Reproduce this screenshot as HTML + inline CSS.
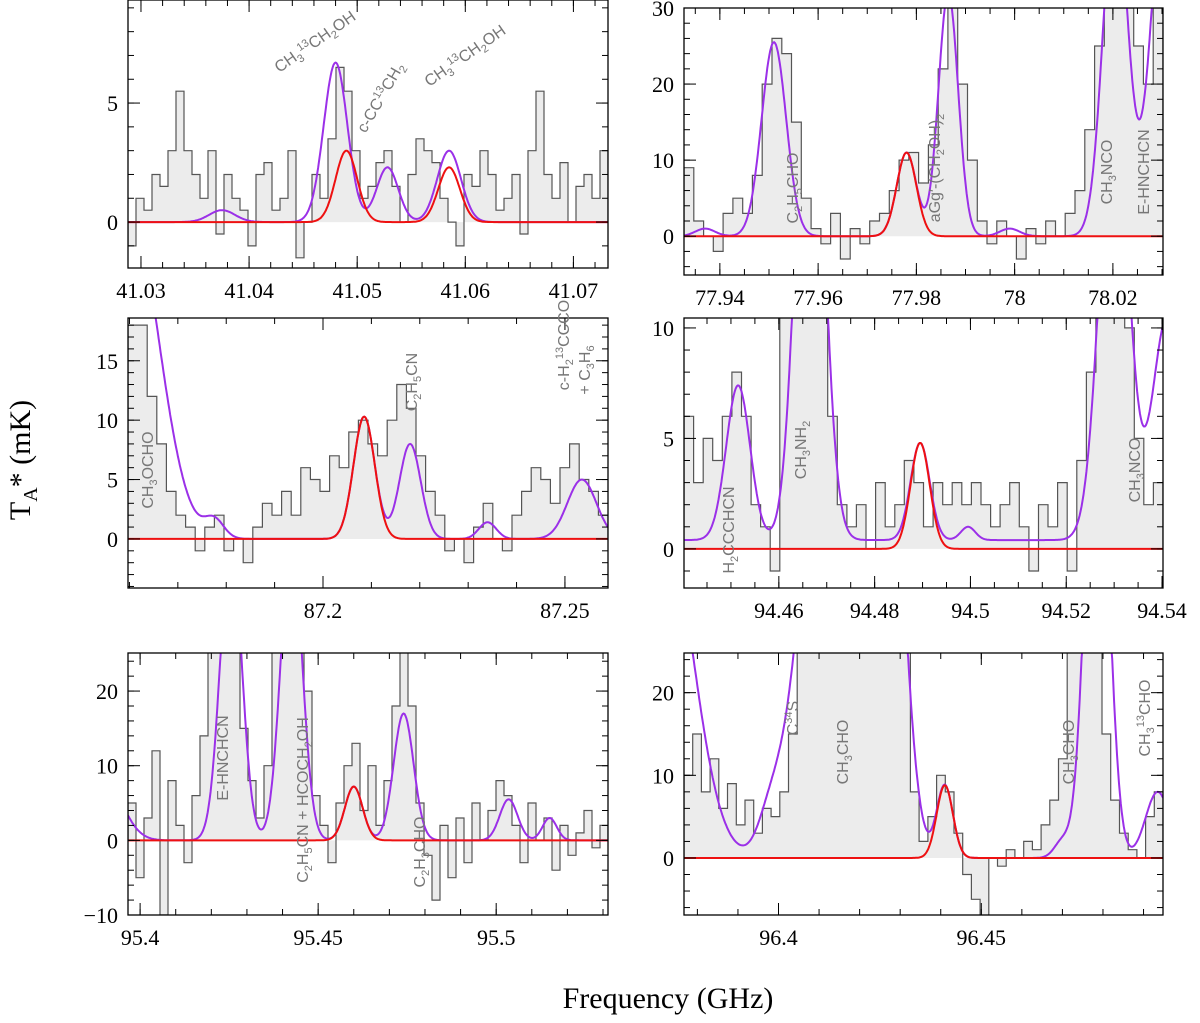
<!DOCTYPE html>
<html><head><meta charset="utf-8"><style>
body{margin:0;background:#fff;}
svg{display:block;font-family:"Liberation Serif",serif;}
.tk{font-size:22px;fill:#000;}
.ann{font-family:"Liberation Sans",sans-serif;font-size:16px;fill:#777;}
</style></head><body>
<svg id="fig" width="1200" height="1023" viewBox="0 0 1200 1023">
<text x="30" y="460" transform="rotate(-90 30 460)" text-anchor="middle" font-size="30">T<tspan font-size="20" dy="7">A</tspan><tspan dy="-7">* (mK)</tspan></text>
<text x="668" y="1008" text-anchor="middle" font-size="30">Frequency (GHz)</text>
</svg>
<script>
// ---- data ----
const p1Start=41.0288, p1End=41.0732;
const p1Spec=[-1,1,0.5,2,1.5,3,5.5,3,2,1,3,-0.5,2,1,0.5,-1,2,2.5,0.5,1,3,-1.5,0,2,1,3.5,6.5,5.5,3,1,1.5,2.5,3,1.5,0,2,3.5,3,2.5,1,0,-1,2,1.5,3,2,0.5,1,2,-0.5,3,5.5,2,1,2.5,0,1.5,2,1,3];
const p1PurpleC=[41.0375,41.048,41.0528,41.0585], p1PurpleA=[0.5,6.7,2.3,3.0], p1PurpleS=[0.0012,0.0011,0.001,0.0011];
const p1RedC=[41.049,41.0585], p1RedA=[3.0,2.3], p1RedS=[0.001,0.001];
const p1XTicks=[41.03,41.04,41.05,41.06,41.07], p1YTicks=[0,5];

const p2Start=77.9327, p2End=78.0302;
const p2Spec=[9,2,0,-2,3,5,3,8,20,26,24,15,5,1,-1,3,-3,1,-1,2,3,6,10,11,7,12,22,30,20,10,2,-1,2,0,-3,1,-1,2,0,3,6,14,25,30,30,30,25,20,30];
const p2PurpleC=[77.937,77.951,77.978,77.9865,77.999,78.0205,78.031], p2PurpleA=[1,25.5,11,32,1,45,50], p2PurpleS=[0.002,0.0025,0.002,0.002,0.002,0.0025,0.003];
const p2RedC=[77.978], p2RedA=[11], p2RedS=[0.002];
const p2XTicks=[77.94,77.96,77.98,78,78.02], p2YTicks=[0,10,20,30];

const p3Start=87.1597, p3End=87.2589;
const p3Spec=[18,18,12,8,4,2,1,-1,1,2,-1,0,-2,1,3,2,4,2,6,5,4,7,6,9,10,8,7,10,13,11,7,4,2,-1,0,-2,1,3,0,-1,2,4,6,5,3,6,8,5,4,2];
const p3PurpleC=[87.160,87.1775,87.2085,87.218,87.234,87.2535], p3PurpleA=[28,1.5,10.3,8,1.4,5], p3PurpleS=[0.006,0.002,0.0022,0.0022,0.0018,0.003];
const p3RedC=[87.2085], p3RedA=[10.3], p3RedS=[0.0022];
const p3XTicks=[87.2,87.25], p3YTicks=[0,5,10,15];

const p4Start=94.4402, p4End=94.5402;
const p4Spec=[6,3,5,4,6,8,6,2,1,-1,12,12,12,12,12,6,2,1,2,0,3,1,2,4,3,1,3,2,3,2,3,2,1,2,3,1,-1,2,1,3,-1,4,8,12,12,12,10,5,2,3];
const p4Base=0.4;
const p4PurpleC=[94.4515,94.4665,94.4895,94.4995,94.530,94.541], p4PurpleA=[7.0,25,4.4,0.6,20,10], p4PurpleS=[0.0025,0.0028,0.002,0.0015,0.003,0.003];
const p4RedC=[94.4895], p4RedA=[4.8], p4RedS=[0.002];
const p4XTicks=[94.46,94.48,94.5,94.52,94.54], p4YTicks=[0,5,10];

const p5Start=95.3966, p5End=95.5314;
const p5Spec=[5,-5,3,12,-10,8,2,-3,6,14,26,26,26,26,15,8,3,10,26,26,26,26,20,6,2,-3,5,10,13,4,10,2,8,18,26,18,5,-2,-8,2,-5,3,-3,5,0,4,8,6,2,-3,5,0,3,-4,2,-2,1,4,-1,2];
const p5PurpleC=[95.39,95.4255,95.4425,95.46,95.474,95.5035,95.515], p5PurpleA=[8,40,40,7.2,17,5.5,3], p5PurpleS=[0.005,0.003,0.003,0.0025,0.0028,0.0025,0.002];
const p5RedC=[95.46], p5RedA=[7.2], p5RedS=[0.0025];
const p5XTicks=[95.4,95.45,95.5], p5YTicks=[-10,0,10,20];

const p6Start=96.3767, p6End=96.4948;
const p6Spec=[10,15,8,12,6,9,4,7,3,6,5,8,15,26,26,26,26,26,26,26,26,26,26,26,26,26,8,2,5,10,8,3,-2,-5,-7,0,-1,1,0,2,1,4,7,12,26,26,26,26,15,7,3,1,0,5,8];
const p6PurpleC=[96.372,96.398,96.4125,96.4265,96.441,96.47,96.4785,96.4935], p6PurpleA=[40,4,60,60,8.8,2,60,8], p6PurpleS=[0.007,0.003,0.0065,0.004,0.002,0.002,0.0028,0.003];
const p6RedC=[96.441], p6RedA=[8.8], p6RedS=[0.002];
const p6XTicks=[96.4,96.45], p6YTicks=[0,10,20];

// ---- drawing ----
const NS='http://www.w3.org/2000/svg';
const svg=document.getElementById('fig');
function mk(tag,attrs,parent){const e=document.createElementNS(NS,tag);for(const k in attrs)e.setAttribute(k,attrs[k]);(parent||svg).appendChild(e);return e;}
function model(f,C,A,S,base){let v=base||0;for(let i=0;i<C.length;i++){const d=(f-C[i])/S[i];v+=A[i]*Math.exp(-0.5*d*d);}return v;}
function fmt(v){return (v<0?'\u2212':'')+String(Math.abs(v));}

const panels=[
 {x0:128,x1:608,y0:0,y1:268,ymin:-1.93,ymax:9.33,fs:p1Start,fe:p1End,spec:p1Spec,pc:p1PurpleC,pa:p1PurpleA,ps:p1PurpleS,rc:p1RedC,ra:p1RedA,rs:p1RedS,xt:p1XTicks,yt:p1YTicks,xm:0.002,ym:1},
 {x0:684,x1:1163,y0:8,y1:275,ymin:-5.1,ymax:30,fs:p2Start,fe:p2End,spec:p2Spec,pc:p2PurpleC,pa:p2PurpleA,ps:p2PurpleS,rc:p2RedC,ra:p2RedA,rs:p2RedS,xt:p2XTicks,yt:p2YTicks,xm:0.005,ym:2},
 {x0:128,x1:608,y0:318,y1:588,ymin:-4.13,ymax:18.6,fs:p3Start,fe:p3End,spec:p3Spec,pc:p3PurpleC,pa:p3PurpleA,ps:p3PurpleS,rc:p3RedC,ra:p3RedA,rs:p3RedS,xt:p3XTicks,yt:p3YTicks,xm:0.01,ym:1},
 {x0:684,x1:1163,y0:318,y1:588,ymin:-1.77,ymax:10.45,fs:p4Start,fe:p4End,spec:p4Spec,pc:p4PurpleC,pa:p4PurpleA,ps:p4PurpleS,rc:p4RedC,ra:p4RedA,rs:p4RedS,xt:p4XTicks,yt:p4YTicks,base:p4Base,xm:0.005,ym:1},
 {x0:128,x1:608,y0:653,y1:915,ymin:-10,ymax:25.1,fs:p5Start,fe:p5End,spec:p5Spec,pc:p5PurpleC,pa:p5PurpleA,ps:p5PurpleS,rc:p5RedC,ra:p5RedA,rs:p5RedS,xt:p5XTicks,yt:p5YTicks,xm:0.01,ym:2},
 {x0:684,x1:1163,y0:653,y1:915,ymin:-6.9,ymax:24.8,fs:p6Start,fe:p6End,spec:p6Spec,pc:p6PurpleC,pa:p6PurpleA,ps:p6PurpleS,rc:p6RedC,ra:p6RedA,rs:p6RedS,xt:p6XTicks,yt:p6YTicks,xm:0.01,ym:2}
];

panels.forEach((p,pi)=>{
 const X=f=>p.x0+(f-p.fs)/(p.fe-p.fs)*(p.x1-p.x0);
 const Y=v=>p.y1-(v-p.ymin)/(p.ymax-p.ymin)*(p.y1-p.y0);
 const g=mk('g',{});
 
 
 const cp=mk('clipPath',{id:'clip'+pi},g);
 mk('rect',{x:p.x0,y:p.y0,width:p.x1-p.x0,height:p.y1-p.y0},cp);
 const inner=mk('g',{'clip-path':'url(#clip'+pi+')'},g);
 const n=p.spec.length, step=(p.fe-p.fs)/n;
 let d='M'+X(p.fs)+','+Y(0);
 for(let i=0;i<n;i++){const a=X(p.fs+i*step),b=X(p.fs+(i+1)*step),y=Y(p.spec[i]);d+=' L'+a.toFixed(1)+','+y.toFixed(1)+' L'+b.toFixed(1)+','+y.toFixed(1);}
 d+=' L'+X(p.fe)+','+Y(0)+' Z';
 const fill=mk('path',{d:d,fill:'#ececec',stroke:'none'},inner);
 
 
 const st=mk('path',{d:d.replace(' Z',''),fill:'none',stroke:'#555','stroke-width':1.2},inner);
 
 
 function curve(C,A,S,base,color,name){
   let dd='';const N=500;
   for(let k=0;k<=N;k++){const f=p.fs+(p.fe-p.fs)*k/N;let y=Y(model(f,C,A,S,base));y=Math.max(p.y0-5,Math.min(p.y1+5,y));dd+=(k?' L':'M')+X(f).toFixed(1)+','+y.toFixed(1);}
   const c=mk('path',{d:dd,fill:'none',stroke:color,'stroke-width':2},inner);
   
   
 }
 curve(p.pc,p.pa,p.ps,p.base||0,'#9b30e8','full-model-curve');
 curve(p.rc,p.ra,p.rs,0,'#ee1111','molecule-model-curve');
 const fr=mk('rect',{x:p.x0,y:p.y0,width:p.x1-p.x0,height:p.y1-p.y0,fill:'none',stroke:'#000','stroke-width':1.3},g);
 
 
 const mx0=Math.ceil(p.fs/p.xm);
 for(let k=mx0;k*p.xm<=p.fe;k++){const x=X(k*p.xm);mk('line',{x1:x,x2:x,y1:p.y1,y2:p.y1-6,stroke:'#000'},g);mk('line',{x1:x,x2:x,y1:p.y0,y2:p.y0+6,stroke:'#000'},g);}
 const my0=Math.ceil(p.ymin/p.ym);
 for(let k=my0;k*p.ym<=p.ymax;k++){const y=Y(k*p.ym);mk('line',{x1:p.x0,x2:p.x0+6,y1:y,y2:y,stroke:'#000'},g);mk('line',{x1:p.x1,x2:p.x1-6,y1:y,y2:y,stroke:'#000'},g);}
 p.xt.forEach(t=>{const x=X(t);
   mk('line',{x1:x,x2:x,y1:p.y1,y2:p.y1-12,stroke:'#000'},g);mk('line',{x1:x,x2:x,y1:p.y0,y2:p.y0+12,stroke:'#000'},g);
   const tx=mk('text',{x:x,y:p.y1+30,'text-anchor':'middle',class:'tk'},g);tx.textContent=String(t);
   
   
 });
 p.yt.forEach(t=>{const y=Y(t);
   mk('line',{x1:p.x0,x2:p.x0+12,y1:y,y2:y,stroke:'#000'},g);mk('line',{x1:p.x1,x2:p.x1-12,y1:y,y2:y,stroke:'#000'},g);
   const tx=mk('text',{x:p.x0-10,y:y+8,'text-anchor':'end',class:'tk'},g);tx.textContent=fmt(t);
   
   
 });
});

// annotations: [x,y,rotation,label] ; _x = subscript, ^x = superscript
const anns=[
 [318,46,-35,'CH_3^13CH_2OH'],
 [385,100,-60,'c-CC^13CH_2'],
 [468,60,-35,'CH_3^13CH_2OH'],
 [798,188,-90,'C_2H_5CHO'],
 [940,168,-90,'aGg\u2032-(CH_2OH)_2'],
 [1112,172,-90,'CH_3NCO'],
 [1149,172,-90,'E-HNCHCN'],
 [153,470,-90,'CH_3OCHO'],
 [417,382,-90,'C_2H_5CN'],
 [569,345,-90,'c-H_2^13CCCO'],
 [590,370,-90,'+ C_3H_6'],
 [734,530,-90,'H_2CCCHCN'],
 [806,450,-90,'CH_3NH_2'],
 [1140,470,-90,'CH_3NCO'],
 [228,758,-90,'E-HNCHCN'],
 [308,800,-90,'C_2H_5CN + HCOCH_2OH'],
 [425,852,-90,'C_2H_3CHO'],
 [798,718,-90,'C^34S'],
 [848,752,-90,'CH_3CHO'],
 [1074,752,-90,'CH_3CHO'],
 [1150,718,-90,'CH_3^13CHO']
];
anns.forEach(a=>{
 const t=mk('text',{x:a[0],y:a[1],transform:'rotate('+a[2]+' '+a[0]+' '+a[1]+')','text-anchor':'middle',class:'ann'});
 
 
 const re=/([_^])(\d+)|([^_^]+)/g;let m;let shift=0;
 while((m=re.exec(a[3]))){
   if(m[3]){const s=mk('tspan',{dy:-shift},t);s.textContent=m[3];shift=0;}
   else{const dy=m[1]==='_'?4:-6;const s=mk('tspan',{dy:dy-shift,'font-size':11},t);s.textContent=m[2];shift=dy;}
 }
});
</script>
</body></html>
